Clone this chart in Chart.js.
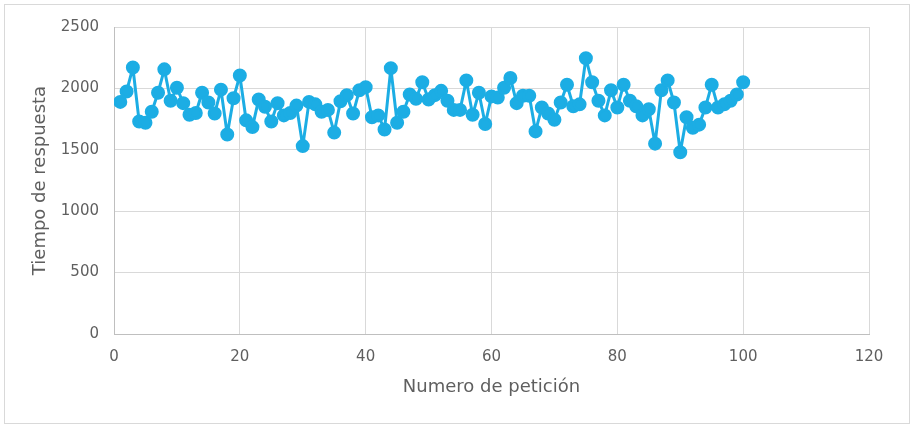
<!DOCTYPE html>
<html>
<head>
<meta charset="utf-8">
<script src="https://cdn.jsdelivr.net/npm/chart.js@4/dist/chart.umd.min.js"></script>
<style>
  html, body { margin: 0; padding: 0; background: #fff; }
  #wrap { width: 914px; height: 428px; position: relative; }
</style>
</head>
<body>
<div id="wrap"><canvas id="chart" width="914" height="428"></canvas></div>
<script>
// request number 1..100
const requests = [];
for (let i = 1; i <= 100; i++) requests.push(i);

// response time
const responseTimes = [
  1890, 1975, 2170, 1730, 1720, 1810, 1965, 2155, 1900, 2005,
  1880, 1785, 1800, 1965, 1885, 1795, 1990, 1625, 1920, 2105,
  1740, 1685, 1910, 1850, 1730, 1880, 1780, 1800, 1860, 1530,
  1890, 1870, 1810, 1825, 1640, 1895, 1945, 1795, 1985, 2010,
  1765, 1780, 1665, 2165, 1720, 1810, 1950, 1915, 2050, 1910,
  1945, 1980, 1900, 1825, 1825, 2065, 1785, 1965, 1710, 1935,
  1925, 2005, 2085, 1880, 1940, 1940, 1650, 1845, 1795, 1745,
  1885, 2030, 1855, 1870, 2245, 2050, 1900, 1780, 1985, 1845,
  2030, 1900, 1855, 1780, 1830, 1550, 1985, 2065, 1885, 1480,
  1765, 1680, 1705, 1845, 2030, 1845, 1870, 1900, 1950, 2050
];

const xTicks = [0, 20, 40, 60, 80, 100, 120];
const yTicks = [0, 500, 1000, 1500, 2000, 2500];

const xTitle = "Numero de petición";
const yTitle = "Tiempo de respuesta";

const points = requests.map((r, i) => ({ x: r, y: responseTimes[i] }));

const fontFamily = "'DejaVu Sans', sans-serif";
const textColor = "#5f5f5f";

// light frame round the whole chart
const framePlugin = {
  id: "frame",
  beforeDraw(chart) {
    const ctx = chart.ctx;
    ctx.save();
    ctx.fillStyle = "#fff";
    ctx.fillRect(0, 0, chart.width, chart.height);
    ctx.strokeStyle = "#d9d9d9";
    ctx.lineWidth = 1;
    ctx.strokeRect(4.5, 4.5, chart.width - 9, chart.height - 9);
    ctx.restore();
  }
};

new Chart(document.getElementById("chart"), {
  type: "scatter",
  data: {
    datasets: [{
      data: points,
      showLine: true,
      borderColor: "#1CADE4",
      backgroundColor: "#1CADE4",
      borderWidth: 3,
      borderJoinStyle: "round",
      borderCapStyle: "round",
      pointRadius: 5.5,
      pointHoverRadius: 5.5,
      tension: 0
    }]
  },
  options: {
    responsive: false,
    animation: false,
    layout: { padding: { top: 27, right: 45, left: 0, bottom: 0 } },
    plugins: {
      legend: { display: false },
      tooltip: { enabled: false }
    },
    scales: {
      x: {
        type: "linear",
        min: xTicks[0],
        max: xTicks[xTicks.length - 1],
        afterBuildTicks(scale) { scale.ticks = xTicks.map(v => ({ value: v })); },
        afterFit(scale) { scale.height = 94; },
        grid: { color: "#d9d9d9", drawTicks: false },
        border: { color: "#bfbfbf" },
        ticks: {
          padding: 14,
          color: textColor,
          font: { family: fontFamily, size: 15 },
          callback: v => String(v)
        },
        title: {
          display: true,
          text: xTitle,
          color: textColor,
          font: { family: fontFamily, size: 18 },
          padding: { top: 0, bottom: 30 }
        }
      },
      y: {
        type: "linear",
        min: yTicks[0],
        max: yTicks[yTicks.length - 1],
        afterBuildTicks(scale) { scale.ticks = yTicks.map(v => ({ value: v })); },
        afterFit(scale) { scale.width = 114; },
        grid: { color: "#d9d9d9", drawTicks: false },
        border: { color: "#bfbfbf" },
        ticks: {
          padding: 15,
          color: textColor,
          font: { family: fontFamily, size: 15 },
          callback: v => String(v)
        },
        title: {
          display: true,
          text: yTitle,
          color: textColor,
          font: { family: fontFamily, size: 18 },
          padding: { top: 30, bottom: 0 }
        }
      }
    }
  },
  plugins: [framePlugin]
});
</script>
</body>
</html>
